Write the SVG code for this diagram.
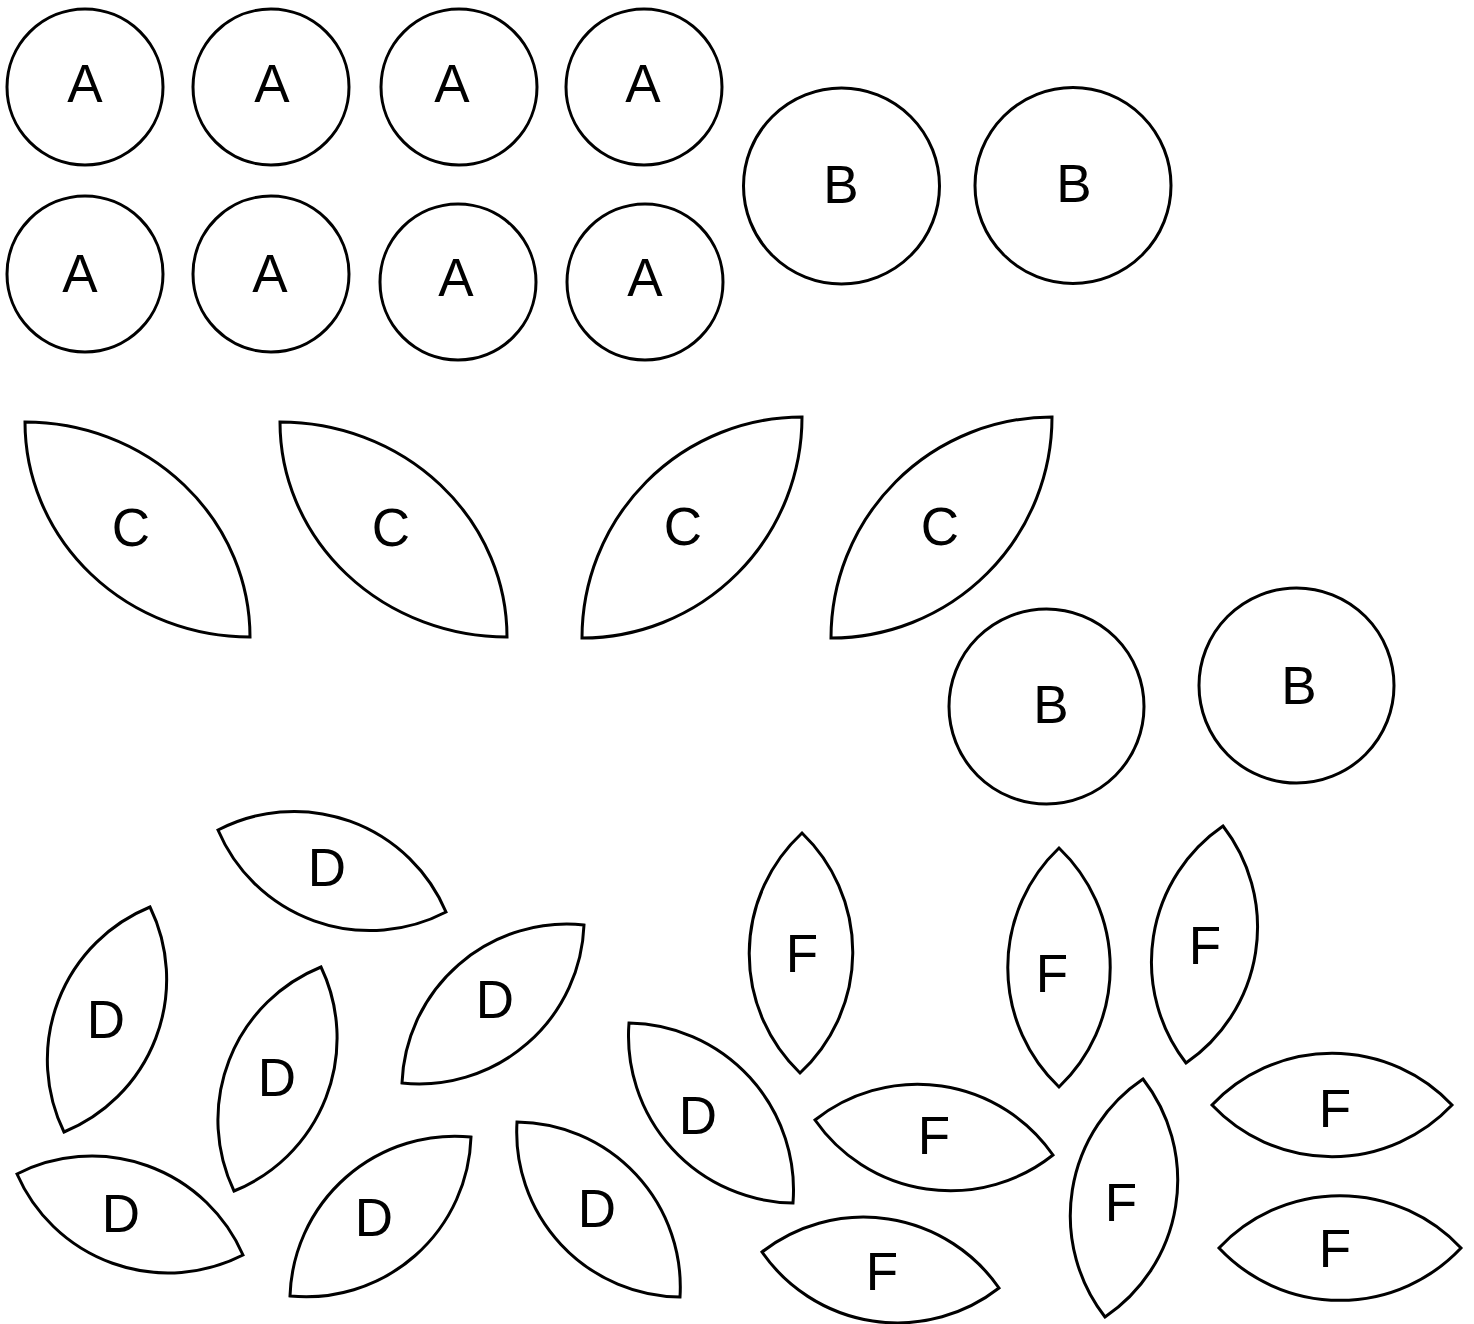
<svg xmlns="http://www.w3.org/2000/svg" width="1474" height="1324" viewBox="0 0 1474 1324">
<style>
.s{fill:#fff;stroke:#000;stroke-width:3;stroke-linejoin:miter}
.t{font-family:"Liberation Sans",Arial,sans-serif;font-size:53px;fill:#000;text-anchor:middle}
</style>
<rect width="1474" height="1324" fill="#fff"/>
<g id="A1"><circle class="s" cx="85" cy="87" r="78"/><text class="t" x="85" y="102">A</text></g>
<g id="A2"><circle class="s" cx="271" cy="87" r="78"/><text class="t" x="272" y="102">A</text></g>
<g id="A3"><circle class="s" cx="459" cy="87" r="78"/><text class="t" x="452" y="102">A</text></g>
<g id="A4"><circle class="s" cx="644" cy="87" r="78"/><text class="t" x="643" y="102">A</text></g>
<g id="A5"><circle class="s" cx="85" cy="274" r="78"/><text class="t" x="80" y="292">A</text></g>
<g id="A6"><circle class="s" cx="271" cy="274" r="78"/><text class="t" x="270" y="292">A</text></g>
<g id="A7"><circle class="s" cx="458" cy="282" r="78"/><text class="t" x="456" y="296">A</text></g>
<g id="A8"><circle class="s" cx="645" cy="282" r="78"/><text class="t" x="645" y="296">A</text></g>
<g id="B1"><circle class="s" cx="841.5" cy="186" r="98"/><text class="t" x="841" y="203">B</text></g>
<g id="B2"><circle class="s" cx="1073" cy="185.5" r="98"/><text class="t" x="1074" y="202">B</text></g>
<g id="B3"><circle class="s" cx="1046.5" cy="706.5" r="97.5"/><text class="t" x="1051" y="723">B</text></g>
<g id="B4"><circle class="s" cx="1296.5" cy="685.5" r="97.5"/><text class="t" x="1299" y="704">B</text></g>
<g id="C1"><path class="s" d="M25 422A225 215 0 0 1 250 637A225 215 0 0 1 25 422Z"/><text class="t" x="131" y="546">C</text></g>
<g id="C2"><path class="s" d="M280 422A227 215 0 0 1 507 637A227 215 0 0 1 280 422Z"/><text class="t" x="391" y="546">C</text></g>
<g id="C3"><path class="s" d="M582 638A220 221 0 0 1 802 417A220 221 0 0 1 582 638Z"/><text class="t" x="683" y="545">C</text></g>
<g id="C4"><path class="s" d="M831 638A221 221 0 0 1 1052 417A221 221 0 0 1 831 638Z"/><text class="t" x="940" y="545">C</text></g>
<g id="D1"><path class="s" d="M218 830A165 165 0 0 1 446 912A165 165 0 0 1 218 830Z"/><text class="t" x="327" y="886">D</text></g>
<g id="D2"><path class="s" d="M150 907A165 165 0 0 1 64 1132A165 165 0 0 1 150 907Z"/><text class="t" x="106" y="1038">D</text></g>
<g id="D3"><path class="s" d="M321 967A165 165 0 0 1 234 1191A165 165 0 0 1 321 967Z"/><text class="t" x="277" y="1096">D</text></g>
<g id="D4"><path class="s" d="M584 925A165 165 0 0 1 402 1083A165 165 0 0 1 584 925Z"/><text class="t" x="495" y="1018">D</text></g>
<g id="D5"><path class="s" d="M17 1174A165 165 0 0 1 243 1255A165 165 0 0 1 17 1174Z"/><text class="t" x="121" y="1232">D</text></g>
<g id="D6"><path class="s" d="M471 1137A165 165 0 0 1 290 1296A165 165 0 0 1 471 1137Z"/><text class="t" x="374" y="1236">D</text></g>
<g id="D7"><path class="s" d="M517 1122A165 165 0 0 1 680 1297A165 165 0 0 1 517 1122Z"/><text class="t" x="597" y="1227">D</text></g>
<g id="D8"><path class="s" d="M629 1023A167 167 0 0 1 793 1203A167 167 0 0 1 629 1023Z"/><text class="t" x="698" y="1134">D</text></g>
<g id="F1"><path class="s" d="M802 833A165 165 0 0 1 800 1073A165 165 0 0 1 802 833Z"/><text class="t" x="802" y="972">F</text></g>
<g id="F2"><path class="s" d="M815 1120A165 165 0 0 1 1053 1155A165 165 0 0 1 815 1120Z"/><text class="t" x="934" y="1154">F</text></g>
<g id="F3"><path class="s" d="M762 1252A165 165 0 0 1 999 1288A165 165 0 0 1 762 1252Z"/><text class="t" x="882" y="1290">F</text></g>
<g id="F4"><path class="s" d="M1059 848A165 165 0 0 1 1059 1087A165 165 0 0 1 1059 848Z"/><text class="t" x="1052" y="992">F</text></g>
<g id="F5"><path class="s" d="M1223 826A165 165 0 0 1 1186 1063A165 165 0 0 1 1223 826Z"/><text class="t" x="1205" y="964">F</text></g>
<g id="F6"><path class="s" d="M1143 1079A165 165 0 0 1 1105 1317A165 165 0 0 1 1143 1079Z"/><text class="t" x="1121" y="1221">F</text></g>
<g id="F7"><path class="s" d="M1212 1105A165 165 0 0 1 1452 1105A165 165 0 0 1 1212 1105Z"/><text class="t" x="1335" y="1127">F</text></g>
<g id="F8"><path class="s" d="M1219 1248A166 166 0 0 1 1461 1248A166 166 0 0 1 1219 1248Z"/><text class="t" x="1335" y="1267">F</text></g>
</svg>
